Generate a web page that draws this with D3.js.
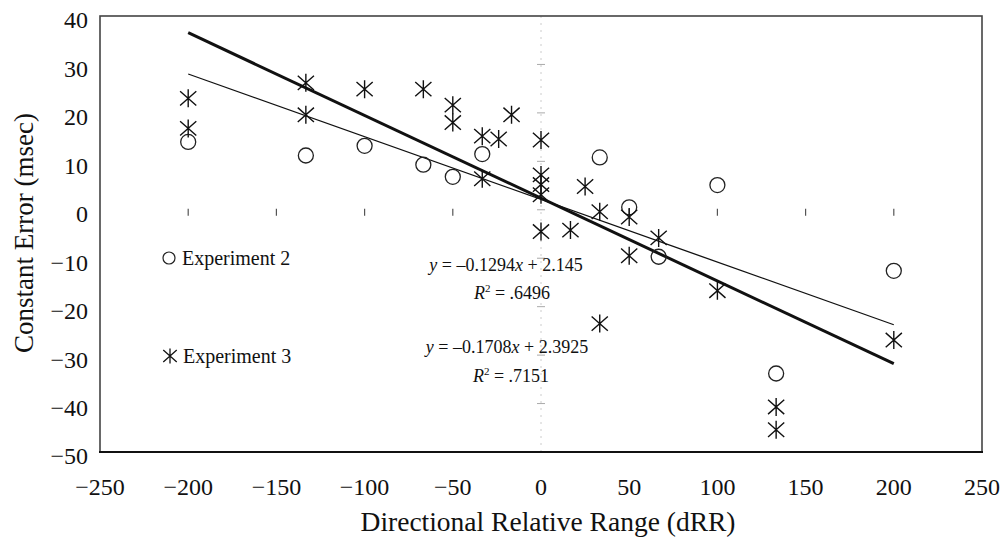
<!DOCTYPE html>
<html><head><meta charset="utf-8">
<script src="https://cdn.jsdelivr.net/npm/d3@7"></script>
<style>body{margin:0;background:#fff}svg{display:block}text{font-family:"Liberation Serif","Times New Roman",serif;fill:#111}</style>
</head><body><svg id="c" width="1004" height="540"></svg>
<script>
// ---- data ----
const xTicks = [-250,-200,-150,-100,-50,0,50,100,150,200,250];
const yTicks = [40,30,20,10,0,-10,-20,-30,-40,-50];
const exp2X = [-200,-133.3,-100,-66.7,-50,-33.3,33.3,50,66.7,100,133.3,200];
const exp2Y = [14,11.2,13.2,9.3,6.8,11.5,10.8,0.5,-9.7,5.1,-33.8,-12.6];
const exp3X = [-200,-200,-133.3,-133.3,-100,-66.7,-50,-50,-33.3,-33.3,-24,-16.7,0,0,0,0,0,16.7,25,33.3,33.3,50,50,66.7,100,133.3,133.3,200];
const exp3Y = [23,16.8,26.2,19.6,24.9,24.9,21.6,18,15.2,6.4,14.6,19.6,14.4,7.2,5.2,3.1,-4.5,-4.2,4.8,-0.4,-23.5,-1.5,-9.5,-5.8,-16.7,-40.7,-45.4,-26.9];
const fits = [
  {name:"Experiment 2", slope:-0.1294, intercept:2.145, r2:".6496", x0:-200, x1:200},
  {name:"Experiment 3", slope:-0.1708, intercept:2.3925, r2:".7151", x0:-200, x1:200}
];
const minus = s => String(s).replace("-", "\u2212");

const svg = d3.select("#c");
const x = d3.scaleLinear().domain([-250,250]).range([100,982]);
const y = d3.scaleLinear().domain([-50,40]).range([452,16]);

// faint axis at x=0
svg.append("line").attr("x1",x(0)).attr("x2",x(0)).attr("y1",y(40)).attr("y2",y(-50))
  .attr("stroke","#ccc").attr("stroke-width",1).attr("stroke-dasharray","2,5");
svg.selectAll(".yt0").data(yTicks.filter(d=>d>-50&&d<40)).join("line")
  .attr("x1",x(0)-4).attr("x2",x(0)+4).attr("y1",d=>y(d)).attr("y2",d=>y(d))
  .attr("stroke","#aaa").attr("stroke-width",1);
// ticks on y=0
svg.selectAll(".xt0").data(xTicks.filter(d=>d>-250&&d<250&&d!==0)).join("line")
  .attr("x1",d=>x(d)).attr("x2",d=>x(d)).attr("y1",y(0)-1).attr("y2",y(0)+6)
  .attr("stroke","#555").attr("stroke-width",1.2);

// frame
svg.append("rect").attr("x",100).attr("y",16).attr("width",882).attr("height",436)
  .attr("fill","none").attr("stroke","#444").attr("stroke-width",1.6);
svg.append("line").attr("x1",99).attr("x2",983).attr("y1",452).attr("y2",452).attr("stroke","#111").attr("stroke-width",2);

// tick labels
svg.selectAll(".ytl").data(yTicks).join("text")
  .attr("x",88).attr("y",d=>y(d)+4).attr("dy","0.35em").attr("text-anchor","end")
  .attr("font-size",24).text(d=>minus(d));
svg.selectAll(".xtl").data(xTicks).join("text")
  .attr("x",d=>x(d)).attr("y",495).attr("text-anchor","middle")
  .attr("font-size",24).text(d=>minus(d));

// axis titles
svg.append("text").attr("x",548).attr("y",531).attr("text-anchor","middle").attr("font-size",27.5)
  .text("Directional Relative Range (dRR)");
svg.append("text").attr("transform","translate(33,233) rotate(-90)").attr("text-anchor","middle").attr("font-size",27)
  .text("Constant Error (msec)");

// fit lines
svg.selectAll(".fit").data(fits).join("line")
  .attr("x1",d=>x(d.x0)).attr("x2",d=>x(d.x1))
  .attr("y1",d=>y(d.slope*d.x0+d.intercept)).attr("y2",d=>y(d.slope*d.x1+d.intercept))
  .attr("stroke","#111").attr("stroke-width",(d,i)=>i===0?1.3:3);

// markers
const star = s => `M0,${-s}L0,${s}M${-s*0.9},${-s*0.8}L${s*0.9},${s*0.8}M${-s*0.9},${s*0.8}L${s*0.9},${-s*0.8}`;
svg.selectAll(".c2").data(exp2X.map((v,i)=>[v,exp2Y[i]])).join("circle")
  .attr("cx",d=>x(d[0])).attr("cy",d=>y(d[1])).attr("r",7.5)
  .attr("fill","none").attr("stroke","#222").attr("stroke-width",1.3);
svg.selectAll(".s3").data(exp3X.map((v,i)=>[v,exp3Y[i]])).join("path")
  .attr("transform",d=>`translate(${x(d[0])},${y(d[1])})`).attr("d",star(9))
  .attr("fill","none").attr("stroke","#111").attr("stroke-width",1.4);

// legend
svg.append("circle").attr("cx",169).attr("cy",258).attr("r",6).attr("fill","none").attr("stroke","#222").attr("stroke-width",1.2);
svg.append("text").attr("x",182).attr("y",265).attr("font-size",20).text(fits[0].name);
svg.append("path").attr("transform","translate(170,356)").attr("d",star(7.5)).attr("fill","none").attr("stroke","#111").attr("stroke-width",1.3);
svg.append("text").attr("x",183).attr("y",363).attr("font-size",20).text(fits[1].name);

// equations
const eq = svg.append("g").attr("font-size",18);
function eqText(cx, cy, f){
  const t = eq.append("text").attr("x",cx).attr("y",cy).attr("text-anchor","middle");
  t.append("tspan").attr("font-style","italic").text("y");
  t.append("tspan").text(" = \u2013" + Math.abs(f.slope) + "");
  t.append("tspan").attr("font-style","italic").text("x");
  t.append("tspan").text(" + " + f.intercept);
}
function r2Text(cx, cy, f){
  const t = eq.append("text").attr("x",cx).attr("y",cy).attr("text-anchor","middle");
  t.append("tspan").attr("font-style","italic").text("R");
  t.append("tspan").attr("font-size",11).attr("dy",-7).text("2");
  t.append("tspan").attr("dy",7).text(" = " + f.r2);
}
eqText(506, 271, fits[0]);
r2Text(512, 299, fits[0]);
eqText(507, 353, fits[1]);
r2Text(511, 382, fits[1]);
</script></body></html>
